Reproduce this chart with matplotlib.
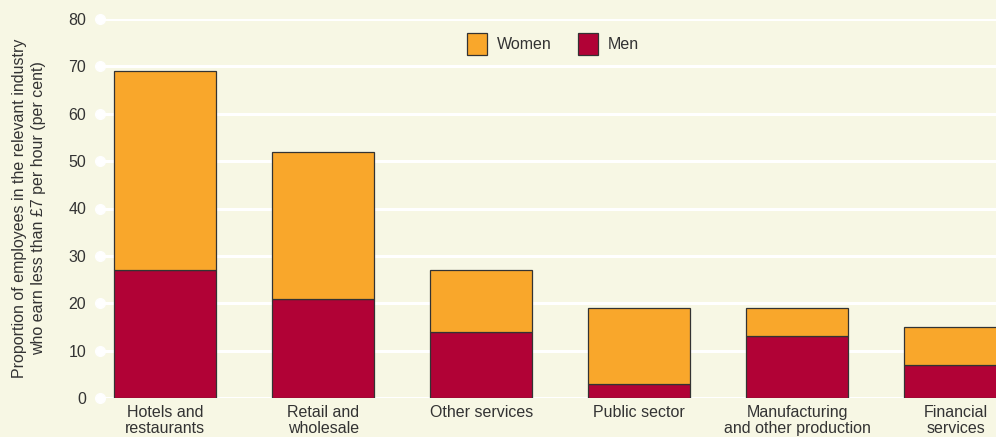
import numpy as np
import matplotlib.pyplot as plt

plt.rcParams['font.family'] = ['Liberation Sans', 'DejaVu Sans']

categories = ["Hotels and\nrestaurants", "Retail and\nwholesale", "Other services",
              "Public sector", "Manufacturing\nand other production", "Financial\nservices"]
men = [27, 21, 14, 3, 13, 7]
women = [42, 31, 13, 16, 6, 8]
yticks = [0, 10, 20, 30, 40, 50, 60, 70, 80]

bg = '#F7F7E4'
c_women = '#F9A72B'
c_men = '#B10236'
txt = '#333333'

fig = plt.figure(figsize=(9.96, 4.37), dpi=100, facecolor=bg)
ax = fig.add_axes([100 / 996, (437 - 398) / 437, 1 - 100 / 996, 379 / 437])
ax.set_facecolor(bg)

x = np.arange(len(categories))
w = 102 / 158
ax.set_xlim(-(165 - 100) / 158, 5 + (996 - 955.5) / 158)
ax.set_ylim(0, 80)

# white grid lines with a dot at the left end
for yv in yticks:
    ax.axhline(yv, color='white', lw=2.2, zorder=0)
    ax.plot([ax.get_xlim()[0]], [yv], 'o', color='white', ms=7, clip_on=False, zorder=0)

ax.bar(x, men, w, color=c_men, edgecolor='#333333', lw=0.9, label='Men', zorder=2)
ax.bar(x, women, w, bottom=men, color=c_women, edgecolor='#333333', lw=0.9, label='Women', zorder=2)

for s in ax.spines.values():
    s.set_visible(False)
ax.set_yticks(yticks)
ax.set_xticks(x)
ax.set_xticklabels(categories, fontsize=11.5, color=txt, linespacing=1.05)
ax.tick_params(axis='y', length=0, pad=10, labelsize=11.5, labelcolor=txt)
ax.tick_params(axis='x', length=0, pad=5)

fig.text(29 / 996, (437 - 208) / 437,
         "Proportion of employees in the relevant industry\nwho earn less than £7 per hour (per cent)",
         rotation=90, ha='center', va='center', fontsize=11.5, color=txt, linespacing=1.3)

h, l = ax.get_legend_handles_labels()
leg = ax.legend(h[::-1], l[::-1], loc='center', bbox_to_anchor=((553 - 100) / 896, (398 - 44) / 379),
                ncol=2, frameon=False, fontsize=11.5, handlelength=1.25, handleheight=1.75,
                columnspacing=1.7, handletextpad=0.6)
for t in leg.get_texts():
    t.set_color(txt)

fig.savefig("out.png", dpi=100, facecolor=bg)
